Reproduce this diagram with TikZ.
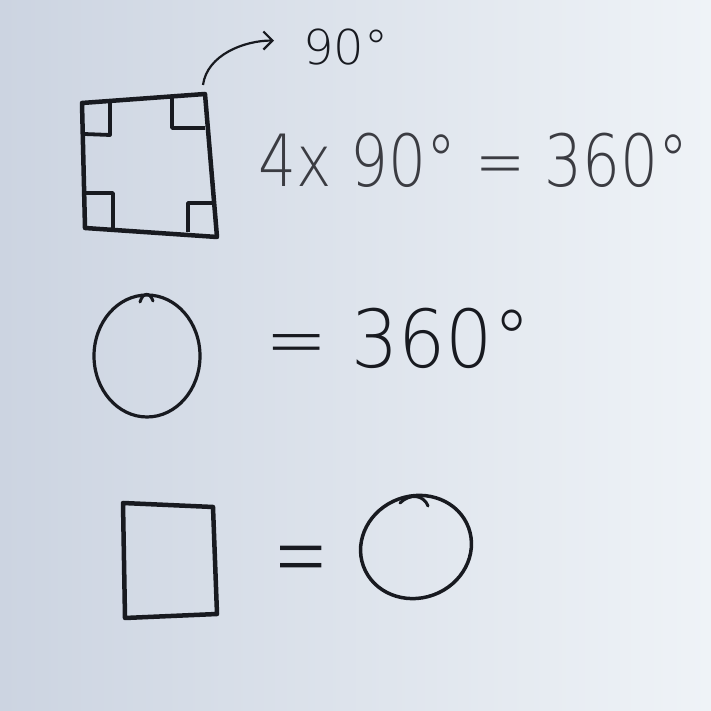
\documentclass[tikz,border=0pt]{standalone}
\usepackage{fontspec}
\usepackage{graphicx}
\IfFontExistsTF{DejaVu Sans ExtraLight}{\newfontfamily\handfont{DejaVu Sans ExtraLight}}{\newfontfamily\handfont{DejaVu Sans}}
\definecolor{inkblack}{RGB}{24,26,32}
\definecolor{paperleft}{RGB}{204,212,225}
\definecolor{paperright}{RGB}{239,243,247}
\usetikzlibrary{arrows.meta, positioning, shapes.geometric}

\begin{document}
\begin{tikzpicture}[x=1pt, y=1pt]
\useasboundingbox (0,0) rectangle (711,711);
\fill[left color=paperleft, right color=paperright] (0,0) rectangle (711,711);
% square with its four right angles
\draw[draw = inkblack, line width = 4.5pt, line join = round] (82,608) -- (205,617) -- (217,474) -- (85,483) -- cycle;
\draw[draw = inkblack, line width = 3.8pt, line join = round] (110,611) -- (110,576) -- (84,577);
\draw[draw = inkblack, line width = 3.8pt, line join = round] (205,583) -- (172,583) -- (172,614);
\draw[draw = inkblack, line width = 3.8pt, line join = round] (113,482) -- (113,518) -- (84,518);
\draw[draw = inkblack, line width = 3.8pt, line join = round] (214,508) -- (188,508) -- (188,479);
\coordinate (tip) at (203,626);
\node[anchor = base west, inner sep = 0pt, text = inkblack, font = \handfont\fontsize{48}{52}\selectfont] (ninety) at (303,646) {90°};
\node[anchor = base west, inner sep = 0pt, text = inkblack!85, font = \handfont\fontsize{72}{80}\selectfont] (product) at (258,524) {\scalebox{0.83}[1]{4x 90° = 360°}};
\draw[draw = inkblack, line width = 2.2pt, -{Straight Barb[length=9pt, width=18pt]}] (tip) .. controls +(4,30) and +(-30,0) .. ([shift={(-29,7)}]ninety.west);
% circle
\draw[draw = inkblack, line width = 3.2pt] (147,355) ellipse (53 and 61);
\draw[draw = inkblack, line width = 3pt, line cap = round] (140,409) .. controls (143,419) and (150,419) .. (153,410);
\node[anchor = base west, inner sep = 0pt, text = inkblack, font = \handfont\fontsize{80}{88}\selectfont] (full) at (265,343) {\scalebox{0.93}[1]{= 360°}};
% square equals circle
\draw[draw = inkblack, line width = 4.5pt, line join = round] (123,208) -- (213,204) -- (217,97) -- (125,93) -- cycle;
\node[inner sep = 0pt, text = inkblack, font = \handfont\fontsize{110}{120}\selectfont] (equal) at (301,142) {\scalebox{0.6}[1]{=}};
\draw[draw = inkblack, line width = 3.5pt, rotate around = {20:(416,164)}] (416,164) ellipse (56 and 51);
\draw[draw = inkblack, line width = 3pt, line cap = round] (400,208) .. controls (410,218) and (424,216) .. (428,205);
\end{tikzpicture}
\end{document}
